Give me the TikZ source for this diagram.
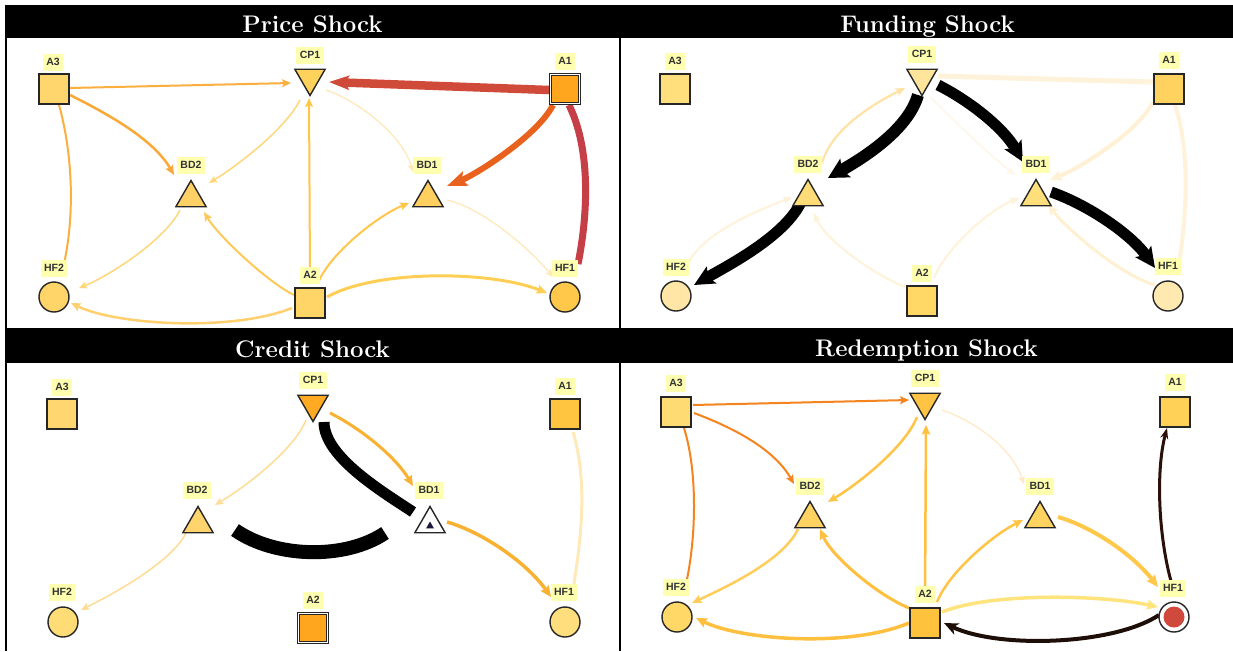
\documentclass[tikz,border=0pt]{standalone}
\usepackage{fontspec}
\newfontfamily\lblfont{Liberation Sans}
\usetikzlibrary{shapes.geometric,arrows.meta}
\pgfdeclarelayer{bg}
\pgfdeclarelayer{edges}
\pgfsetlayers{bg,edges,main}

% label and outline colours
\definecolor{lblyel}{HTML}{FFFFB0}
\definecolor{nodeline}{HTML}{262626}
% node fills
\definecolor{pA3}{HTML}{FFD66E}\definecolor{pCP1}{HTML}{FFD25C}\definecolor{pA1}{HTML}{FFA51E}
\definecolor{pBD2}{HTML}{FFD066}\definecolor{pBD1}{HTML}{FFCF60}\definecolor{pHF2}{HTML}{FFD469}
\definecolor{pA2}{HTML}{FFD567}\definecolor{pHF1}{HTML}{FFC84A}
\definecolor{fA3}{HTML}{FFDE7C}\definecolor{fCP1}{HTML}{FFE49C}\definecolor{fA1}{HTML}{FFD260}
\definecolor{fBD2}{HTML}{FFDC78}\definecolor{fBD1}{HTML}{FFDE7C}\definecolor{fHF2}{HTML}{FFE6A6}
\definecolor{fA2}{HTML}{FFD866}\definecolor{fHF1}{HTML}{FFE9B0}
\definecolor{cA3}{HTML}{FFD670}\definecolor{cCP1}{HTML}{FFAA22}\definecolor{cA1}{HTML}{FFC440}
\definecolor{cBD2}{HTML}{FFD46C}\definecolor{cHF2}{HTML}{FFDC76}\definecolor{cA2}{HTML}{FFA61E}
\definecolor{cHF1}{HTML}{FFDE7E}\definecolor{cInner}{HTML}{1C1A3A}
\definecolor{rA3}{HTML}{FFDB74}\definecolor{rCP1}{HTML}{FFC444}\definecolor{rA1}{HTML}{FFD257}
\definecolor{rBD2}{HTML}{FFD261}\definecolor{rBD1}{HTML}{FFD360}\definecolor{rHF2}{HTML}{FFD868}
\definecolor{rA2}{HTML}{FFC23C}\definecolor{rDot}{HTML}{CF4A3C}
% edge colours
\definecolor{eOr}{HTML}{FBAF3F}\definecolor{eOr2}{HTML}{F9A93A}
\definecolor{eRed}{HTML}{D04A3A}\definecolor{eRedOr}{HTML}{E8621E}\definecolor{eCrim}{HTML}{C63E46}
\definecolor{eLt}{HTML}{FFD77A}\definecolor{eVlt}{HTML}{FFE8B8}
\definecolor{eMid}{HTML}{FFC64A}\definecolor{eMid2}{HTML}{FFC958}\definecolor{eSoft}{HTML}{FFD070}
\definecolor{eSoft2}{HTML}{FFCF55}
\definecolor{fPale1}{HTML}{FFF2DA}\definecolor{fPale2}{HTML}{FFF1D6}\definecolor{fPale3}{HTML}{FFF0D2}
\definecolor{fPale4}{HTML}{FFF6EA}\definecolor{fLt}{HTML}{FFE2A6}
\definecolor{cLt}{HTML}{FFDC95}\definecolor{cPale}{HTML}{FFE9B8}\definecolor{cOr}{HTML}{F9B131}
\definecolor{rOr}{HTML}{F5841F}\definecolor{rMid}{HTML}{FFC040}\definecolor{rMid2}{HTML}{FFC445}
\definecolor{rVlt}{HTML}{FFE9C4}\definecolor{rSoft}{HTML}{FFCD5C}\definecolor{rPale}{HTML}{FFE47E}
\definecolor{rBD1e}{HTML}{FFC84A}\definecolor{rDark}{HTML}{1E0E08}\definecolor{rDark2}{HTML}{2A1008}

\tikzset{
  lbl/.style={fill=lblyel, text=black!80, font=\lblfont\bfseries\fontsize{10.5}{10.5}\selectfont,
    inner xsep=3.5pt, inner ysep=0pt, minimum height=17pt},
  sq/.style={rectangle, draw=nodeline, line width=1.4pt, minimum size=30pt, inner sep=0pt, fill=#1},
  dsq/.style={rectangle, draw=nodeline, double=white, double distance=1.4pt, line width=1pt,
    minimum size=29pt, inner sep=0pt, fill=#1},
  circ/.style={circle, draw=nodeline, line width=1.4pt, minimum size=30pt, inner sep=0pt, fill=#1},
  tri/.style={regular polygon, regular polygon sides=3, draw=nodeline, line width=1.4pt,
    minimum size=35pt, inner sep=0pt, fill=#1},
  itri/.style={tri=#1, shape border rotate=180},
  ttl/.style={text=white, font=\bfseries\fontsize{24}{24}\selectfont, anchor=base, inner sep=0pt},
  arr/.style={-{Stealth[length=6pt 1.4, width=5pt 1.3, inset=1.5pt]}},
  bigarr/.style 2 args={-{Stealth[length=#1, width=#2, inset=4pt]}},
}

\begin{document}
\begin{tikzpicture}[x=1pt,y=-1pt]
\path[use as bounding box] (0,0) rectangle (1233,651);
\begin{pgfonlayer}{bg}
  \fill[white] (0,0) rectangle (1233,651);
  % table frame and title bars
  \fill[black] (5,5) rectangle (1233,38);
  \fill[black] (5,328) rectangle (1233,363);
  \fill[black] (5,5) rectangle (7,651);
  \fill[black] (619,5) rectangle (621,651);
\end{pgfonlayer}

\node[ttl] (t-price) at (312.5,32) {Price Shock};
\node[ttl] (t-fund) at (927.5,32) {Funding Shock};
\node[ttl] (t-credit) at (312.5,357) {Credit Shock};
\node[ttl] (t-redem) at (926.5,356) {Redemption Shock};

%% ---------------- Price shock ----------------
\node[sq=pA3] (P-A3) at (54,89) {};
\node[itri=pCP1] (P-CP1) at (310,78) {};
\node[dsq=pA1] (P-A1) at (565,89) {};
\node[tri=pBD2] (P-BD2) at (191,198) {};
\node[tri=pBD1] (P-BD1) at (428,198) {};
\node[circ=pHF2] (P-HF2) at (54,297) {};
\node[sq=pA2] (P-A2) at (310,303) {};
\node[circ=pHF1] (P-HF1) at (565,297) {};
\node[lbl] (P-A3-l) at (53,62) {A3};
\node[lbl] (P-CP1-l) at (310,55) {CP1};
\node[lbl] (P-A1-l) at (565,61) {A1};
\node[lbl] (P-BD2-l) at (191,165) {BD2};
\node[lbl] (P-BD1-l) at (427,165) {BD1};
\node[lbl] (P-HF2-l) at (54,268) {HF2};
\node[lbl] (P-A2-l) at (310,275) {A2};
\node[lbl] (P-HF1-l) at (565,268) {HF1};

\begin{pgfonlayer}{edges}
\draw[arr, eVlt, line width=1.2pt] ([shift={(16,12)}]P-CP1.center) .. controls +(35,12) and +(-10,-35) .. ([shift={(-15,-26)}]P-BD1.center);
\draw[arr, eVlt, line width=1.2pt] ([shift={(19,2)}]P-BD1.center) .. controls +(35,8) and +(-25,-30) .. ([shift={(-12,9)}]P-HF1-l.center);
\draw[arr, eLt, line width=1.5pt] ([shift={(-10,22)}]P-CP1.center) .. controls +(-15,30) and +(25,-15) .. ([shift={(18,-15)}]P-BD2.center);
\draw[arr, eLt, line width=1.5pt] ([shift={(-11,12)}]P-BD2.center) .. controls +(-15,30) and +(30,-12) .. ([shift={(25,-9)}]P-HF2.center);
\draw[arr, eMid, line width=2pt] (P-A2-l.center) -- ([shift={(-1,20)}]P-CP1.center);
\draw[arr, eMid2, line width=2pt] ([shift={(-16,-8)}]P-A2.center) .. controls +(-25,-12) and +(15,25) .. ([shift={(13,14)}]P-BD2.center);
\draw[arr, eMid, line width=2pt] ([shift={(8,-20)}]P-A2.center) .. controls +(12,-30) and +(-30,12) .. ([shift={(-19,5)}]P-BD1.center);
\draw[arr, eSoft, line width=2.5pt] ([shift={(-18,5)}]P-A2.center) .. controls +(-60,24) and +(45,22) .. ([shift={(17,6)}]P-HF2.center);
\draw[arr, eSoft2, line width=3pt] ([shift={(17,-6)}]P-A2.center) .. controls +(50,-28) and +(-55,-22) .. ([shift={(-18,-4)}]P-HF1.center);
\draw[arr, eOr, line width=2pt] ([shift={(16,-1)}]P-A3.center) -- ([shift={(-19,5)}]P-CP1.center);
\draw[arr, eOr2, line width=2.5pt] ([shift={(16,6)}]P-A3.center) .. controls +(40,20) and +(-20,-35) .. ([shift={(-17,-23)}]P-BD2.center);
\draw[eOr, line width=2pt] ([shift={(5,16)}]P-A3.center) .. controls +(14,50) and +(12,-50) .. ([shift={(9,0)}]P-HF2-l.center);
\draw[bigarr={20pt}{14pt}, eRed, line width=8.5pt] ([shift={(-16,1)}]P-A1.center) -- ([shift={(19,4)}]P-CP1.center);
\draw[bigarr={20pt}{15pt}, eRedOr, line width=6pt] ([shift={(-12,16)}]P-A1.center) .. controls +(-15,30) and +(30,-12) .. ([shift={(19,-12)}]P-BD1.center);
\draw[eCrim, line width=7pt] ([shift={(4,16)}]P-A1.center) .. controls +(22,45) and +(10,-50) .. ([shift={(13,-4)}]P-HF1-l.center);
\end{pgfonlayer}

%% ---------------- Funding shock ----------------
\node[sq=fA3] (F-A3) at (675,89) {};
\node[itri=fCP1] (F-CP1) at (922,78) {};
\node[sq=fA1] (F-A1) at (1169,89) {};
\node[tri=fBD2] (F-BD2) at (808,197) {};
\node[tri=fBD1] (F-BD1) at (1036,197) {};
\node[circ=fHF2] (F-HF2) at (676,296) {};
\node[sq=fA2] (F-A2) at (922,301) {};
\node[circ=fHF1] (F-HF1) at (1168,296) {};
\node[lbl] (F-A3-l) at (675,61) {A3};
\node[lbl] (F-CP1-l) at (922,54) {CP1};
\node[lbl] (F-A1-l) at (1169,60) {A1};
\node[lbl] (F-BD2-l) at (808,164) {BD2};
\node[lbl] (F-BD1-l) at (1036,164) {BD1};
\node[lbl] (F-HF2-l) at (676,267) {HF2};
\node[lbl] (F-A2-l) at (922,273) {A2};
\node[lbl] (F-HF1-l) at (1168,266) {HF1};

\begin{pgfonlayer}{edges}
\draw[fPale1, line width=5pt] ([shift={(-16,-7)}]F-A1.center) -- ([shift={(16,-2)}]F-CP1.center);
\draw[arr, fPale2, line width=4pt] ([shift={(-16,13)}]F-A1.center) .. controls +(-15,30) and +(30,-12) .. ([shift={(14,-17)}]F-BD1.center);
\draw[fPale1, line width=4pt] ([shift={(6,16)}]F-A1.center) .. controls +(15,45) and +(8,-50) .. ([shift={(11,-3)}]F-HF1-l.center);
\draw[arr, fPale3, line width=3pt] ([shift={(-13,-11)}]F-HF1.center) .. controls +(-35,-10) and +(20,25) .. ([shift={(12,8)}]F-BD1.center);
\draw[arr, fPale1, line width=2pt] ([shift={(12,-23)}]F-A2.center) .. controls +(12,-30) and +(-30,12) .. ([shift={(-17,1)}]F-BD1.center);
\draw[arr, fPale1, line width=2pt] ([shift={(-17,-14)}]F-A2.center) .. controls +(-30,-12) and +(12,28) .. ([shift={(6,16)}]F-BD2.center);
\draw[arr, fPale1, line width=2pt] ([shift={(10,0)}]F-HF2-l.center) .. controls +(15,-35) and +(-30,12) .. ([shift={(-16,0)}]F-BD2.center);
\draw[arr, fPale4, line width=1.5pt] ([shift={(8,19)}]F-CP1.center) .. controls +(25,25) and +(-25,-20) .. ([shift={(-21,-22)}]F-BD1.center);
\draw[arr, fLt, line width=2.2pt] ([shift={(14,-1)}]F-BD2-l.center) .. controls +(10,-35) and +(-30,15) .. ([shift={(-17,10)}]F-CP1.center);
\draw[bigarr={20pt}{21pt}, black, line width=12pt] ([shift={(-4,17)}]F-CP1.center) .. controls +(-10,35) and +(35,-20) .. ([shift={(20,-19)}]F-BD2.center);
\draw[bigarr={20pt}{19pt}, black, line width=11pt] ([shift={(-6,3)}]F-BD2.center) .. controls +(-15,35) and +(35,-20) .. ([shift={(18,-11)}]F-HF2.center);
\draw[bigarr={20pt}{19pt}, black, line width=11pt] ([shift={(16,7)}]F-CP1.center) .. controls +(30,15) and +(-20,-35) .. ([shift={(-13,-35)}]F-BD1.center);
\draw[bigarr={20pt}{19pt}, black, line width=11pt] ([shift={(15,-5)}]F-BD1.center) .. controls +(35,12) and +(-25,-35) .. ([shift={(-13,-28)}]F-HF1.center);
\end{pgfonlayer}

%% ---------------- Credit shock ----------------
\node[sq=cA3] (C-A3) at (62,414) {};
\node[itri=cCP1] (C-CP1) at (313,404) {};
\node[sq=cA1] (C-A1) at (565,414) {};
\node[tri=cBD2] (C-BD2) at (198,524) {};
\node[tri=white] (C-BD1) at (430,524) {};
\node[regular polygon, regular polygon sides=3, fill=cInner, minimum size=9pt, inner sep=0pt] (C-BD1-in) at (430,526) {};
\node[circ=cHF2] (C-HF2) at (63,622) {};
\node[dsq=cA2] (C-A2) at (313,628) {};
\node[circ=cHF1] (C-HF1) at (565,622) {};
\node[lbl] (C-A3-l) at (62,387) {A3};
\node[lbl] (C-CP1-l) at (313,380) {CP1};
\node[lbl] (C-A1-l) at (565,386) {A1};
\node[lbl] (C-BD2-l) at (197,490) {BD2};
\node[lbl] (C-BD1-l) at (429,490) {BD1};
\node[lbl] (C-HF2-l) at (62,592) {HF2};
\node[lbl] (C-A2-l) at (313,600) {A2};
\node[lbl] (C-HF1-l) at (564,592) {HF1};

\begin{pgfonlayer}{edges}
\draw[arr, cLt, line width=1.5pt] ([shift={(-7,16)}]C-CP1.center) .. controls +(-12,30) and +(30,-18) .. ([shift={(17,-19)}]C-BD2.center);
\draw[cPale, line width=3pt] ([shift={(8,18)}]C-A1.center) .. controls +(15,50) and +(8,-50) .. ([shift={(9,-2)}]C-HF1-l.center);
\draw[arr, cLt, line width=1.5pt] ([shift={(-12,9)}]C-BD2.center) .. controls +(-15,30) and +(30,-15) .. ([shift={(18,-12)}]C-HF2.center);
\draw[arr, cOr, line width=3pt] ([shift={(17,9)}]C-CP1.center) .. controls +(30,15) and +(-18,-30) .. ([shift={(-17,-38)}]C-BD1.center);
\draw[arr, cOr, line width=3.5pt] ([shift={(17,-2)}]C-BD1.center) .. controls +(35,10) and +(-25,-35) .. ([shift={(-14,-25)}]C-HF1.center);
\draw[black, line width=11pt] ([shift={(11,18)}]C-CP1.center) .. controls +(0,35) and +(-30,-20) .. ([shift={(-17,-12)}]C-BD1.center);
\draw[black, line width=14pt] ([shift={(-45,9)}]C-BD1.center) .. controls +(-40,27) and +(40,28) .. ([shift={(37,6)}]C-BD2.center);
\end{pgfonlayer}

%% ---------------- Redemption shock ----------------
\node[sq=rA3] (R-A3) at (676,412) {};
\node[itri=rCP1] (R-CP1) at (925,402) {};
\node[sq=rA1] (R-A1) at (1175,412) {};
\node[tri=rBD2] (R-BD2) at (810,519) {};
\node[tri=rBD1] (R-BD1) at (1040,519) {};
\node[circ=rHF2] (R-HF2) at (677,617) {};
\node[sq=rA2] (R-A2) at (925,623) {};
\node[circ=white] (R-HF1) at (1174,617) {};
\node[circle, fill=rDot, minimum size=21pt, inner sep=0pt] (R-HF1-dot) at (1174,617) {};
\node[lbl] (R-A3-l) at (676,383) {A3};
\node[lbl] (R-CP1-l) at (925,378) {CP1};
\node[lbl] (R-A1-l) at (1175,382) {A1};
\node[lbl] (R-BD2-l) at (810,486) {BD2};
\node[lbl] (R-BD1-l) at (1040,486) {BD1};
\node[lbl] (R-HF2-l) at (676,587) {HF2};
\node[lbl] (R-A2-l) at (925,594) {A2};
\node[lbl] (R-HF1-l) at (1173,588) {HF1};

\begin{pgfonlayer}{edges}
\draw[arr, rVlt, line width=1.2pt] ([shift={(17,8)}]R-CP1.center) .. controls +(35,12) and +(-12,-35) .. ([shift={(-16,-35)}]R-BD1.center);
\draw[arr, rMid2, line width=2.5pt] ([shift={(-8,15)}]R-CP1.center) .. controls +(-12,30) and +(30,-18) .. ([shift={(18,-17)}]R-BD2.center);
\draw[arr, rMid, line width=2.5pt] (R-A2-l.center) -- ([shift={(1,23)}]R-CP1.center);
\draw[arr, rMid, line width=3pt] ([shift={(-16,-15)}]R-A2.center) .. controls +(-30,-12) and +(12,28) .. ([shift={(10,10)}]R-BD2.center);
\draw[arr, rMid2, line width=2.5pt] ([shift={(12,-21)}]R-A2.center) .. controls +(12,-30) and +(-30,15) .. ([shift={(-17,1)}]R-BD1.center);
\draw[arr, rSoft, line width=2.5pt] ([shift={(-12,10)}]R-BD2.center) .. controls +(-15,32) and +(32,-15) .. ([shift={(15,-14)}]R-HF2.center);
\draw[arr, rMid, line width=3.5pt] ([shift={(-16,0)}]R-A2.center) .. controls +(-60,25) and +(45,22) .. ([shift={(19,1)}]R-HF2.center);
\draw[arr, rPale, line width=3.5pt] ([shift={(17,-11)}]R-A2.center) .. controls +(50,-20) and +(-55,-12) .. ([shift={(-16,-10)}]R-HF1.center);
\draw[arr, rBD1e, line width=4pt] ([shift={(18,-2)}]R-BD1.center) .. controls +(35,10) and +(-25,-32) .. ([shift={(-15,-1)}]R-HF1-l.center);
\draw[arr, rOr, line width=2pt] ([shift={(17,-7)}]R-A3.center) -- ([shift={(-16,-2)}]R-CP1.center);
\draw[arr, rOr, line width=2pt] ([shift={(18,1)}]R-A3.center) .. controls +(40,15) and +(-20,-35) .. ([shift={(-16,-35)}]R-BD2.center);
\draw[rOr, line width=2pt] ([shift={(8,16)}]R-A3.center) .. controls +(14,45) and +(10,-45) .. ([shift={(10,-3)}]R-HF2-l.center);
\draw[bigarr={14pt}{12pt}, rDark, line width=4pt] ([shift={(-15,-2)}]R-HF1.center) .. controls +(-45,30) and +(55,26) .. ([shift={(19,0)}]R-A2.center);
\draw[bigarr={11pt}{8pt}, rDark2, line width=3pt] (R-HF1-l.center) .. controls +(-14,-45) and +(-12,45) .. ([shift={(-8,16)}]R-A1.center);
\end{pgfonlayer}
\end{tikzpicture}
\end{document}
